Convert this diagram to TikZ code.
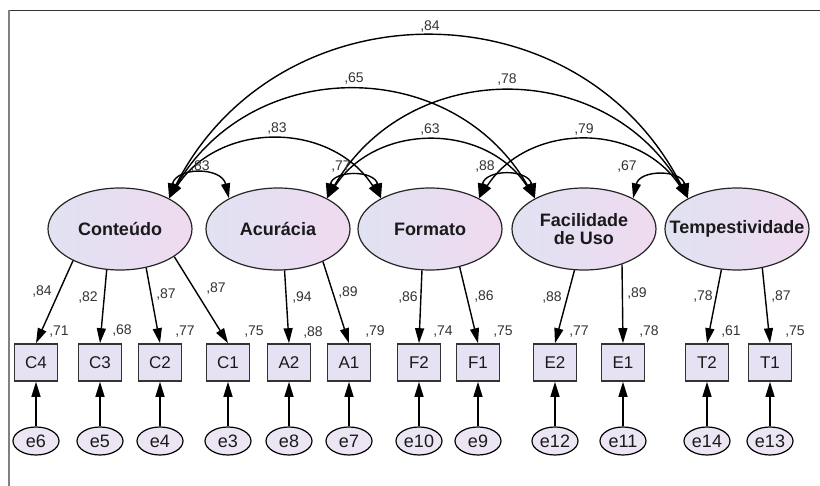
\documentclass[tikz,border=0pt]{standalone}
\usepackage{fontspec}
\setmainfont{Liberation Sans}
\usetikzlibrary{arrows.meta,shapes.geometric}
\definecolor{latL}{HTML}{E0E2F2}
\definecolor{latR}{HTML}{F0DAF0}
\definecolor{boxF}{HTML}{E6E2F4}
\definecolor{errF}{HTML}{ECE6F4}
\definecolor{txt}{HTML}{1A1A1A}
\definecolor{num}{HTML}{333333}
\newcommand{\zw}[1]{\makebox[0pt]{\shortstack{#1}}}
\tikzset{
  latent/.style={ellipse, draw=black!85, line width=1.2pt, minimum width=144pt, minimum height=82pt,
    inner sep=0pt, left color=latL, right color=latR, text=txt,
    font=\fontsize{18}{21}\selectfont\bfseries},
  indic/.style={rectangle, draw=black!80, line width=1.6pt, fill=boxF, minimum width=43pt,
    minimum height=37pt, inner sep=0pt, text=txt, font=\fontsize{17}{19}\selectfont},
  errv/.style={ellipse, draw=black, line width=1.2pt, fill=errF, minimum width=46pt,
    minimum height=28pt, inner sep=0pt, text=txt, font=\fontsize{18}{20}\selectfont},
  numlab/.style={inner sep=0pt, text=num, font=\fontsize{14}{16}\selectfont},
  load/.style={line width=1.4pt, -{Triangle[length=15pt,width=9pt]}},
  cov/.style={line width=1.4pt, {Triangle[length=15pt,width=9pt]}-{Triangle[length=15pt,width=9pt]}},
  cshort/.style={cov, out=77, in=103, looseness=1.39},
  ctwo/.style={cov, out=57, in=123, looseness=1.12},
  cthree/.style={cov, out=60, in=120, looseness=1.16},
  cfour/.style={cov, out=63, in=117, looseness=1.19}
}
\begin{document}
\begin{tikzpicture}[x=1pt,y=-1pt]
\useasboundingbox (0,0) rectangle (820,486);
\fill[white] (0,0) rectangle (820,486);
% frame
\draw[line width=1.5pt, black!80] (8,10.5) -- (820,10.5);
\draw[line width=1.5pt, black!50] (9,10) -- (9,486);

% latent variables
\node[latent] (Con) at (120,229) {\zw{Conteúdo}};
\node[latent] (Acu) at (278,229) {\zw{Acurácia}};
\node[latent] (For) at (430,229) {\zw{Formato}};
\node[latent] (Fac) at (584,229) {\zw{Facilidade\\[1pt]de Uso}};
\node[latent] (Tem) at (737,229) {\zw{Tempestividade}};

% indicators and errors
\foreach \n/\e/\x in {C4/e6/36, C3/e5/100, C2/e4/160, C1/e3/228, A2/e8/289, A1/e7/349, F2/e10/419, F1/e9/478, E2/e12/555, E1/e11/623, T2/e14/707, T1/e13/770}{
  \node[indic] (\n) at (\x,362.5) {\n};
  \node[errv] (\e) at (\x,441) {\e};
  \draw[load] (\e.north) -- (\n.south);
}

% loadings
\draw[load] (Con.214.5) -- (C4.north);
\draw[load] (Con.252.4) -- (C3.north);
\draw[load] (Con.304.7) -- (C2.north);
\draw[load] (Con.333.8) -- (C1.north);
\draw[load] (Acu.279.7) -- (A2.north);
\draw[load] (Acu.324.8) -- (A1.north);
\draw[load] (For.259) -- (F2.north);
\draw[load] (For.308.5) -- (F1.north);
\draw[load] (Fac.257.6) -- (E2.north);
\draw[load] (Fac.317.5) -- (E1.north);
\draw[load] (Tem.249.5) -- (T2.north);
\draw[load] (Tem.303) -- (T1.north);

% covariances
\draw[cfour]  (Con.32) to (Tem.148);
\draw[cthree] (Con.32) to (Fac.148);
\draw[cthree] (Acu.32) to (Tem.148);
\draw[ctwo]   (Con.32) to (For.148);
\draw[ctwo]   (Acu.32) to (Fac.148);
\draw[ctwo]   (For.32) to (Tem.148);
\draw[cshort] (Con.32) to (Acu.148);
\draw[cshort] (Acu.32) to (For.148);
\draw[cshort] (For.32) to (Fac.148);
\draw[cshort] (Fac.32) to (Tem.148);

% covariance labels
\node[numlab] (k1) at (430,27) {,84};
\node[numlab] (k2) at (354,79) {,65};
\node[numlab] (k3) at (507,80) {,78};
\node[numlab] (k4) at (277,129) {,83};
\node[numlab] (k5) at (430,130) {,63};
\node[numlab] (k6) at (584,130) {,79};
\node[numlab] (k7) at (200,167) {,83};
\node[numlab] (k8) at (341,167) {,77};
\node[numlab] (k9) at (485,167) {,88};
\node[numlab] (k10) at (627,167) {,67};

% loading labels
\node[numlab] (l1) at (42,292) {,84};
\node[numlab] (l2) at (88,298) {,82};
\node[numlab] (l3) at (166,295) {,87};
\node[numlab] (l4) at (216,289) {,87};
\node[numlab] (l5) at (302,298) {,94};
\node[numlab] (l6) at (348,293) {,89};
\node[numlab] (l7) at (408,298) {,86};
\node[numlab] (l8) at (484,297) {,86};
\node[numlab] (l9) at (552,298) {,88};
\node[numlab] (l10) at (637,294) {,89};
\node[numlab] (l11) at (703,297) {,78};
\node[numlab] (l12) at (781,297) {,87};

% R2 labels
\node[numlab] (r1) at (59,332) {,71};
\node[numlab] (r2) at (122,331) {,68};
\node[numlab] (r3) at (185,332) {,77};
\node[numlab] (r4) at (254,332) {,75};
\node[numlab] (r5) at (313,333) {,88};
\node[numlab] (r6) at (375,332) {,79};
\node[numlab] (r7) at (443,332) {,74};
\node[numlab] (r8) at (503,332) {,75};
\node[numlab] (r9) at (579,332) {,77};
\node[numlab] (r10) at (649,332) {,78};
\node[numlab] (r11) at (731,332) {,61};
\node[numlab] (r12) at (795,332) {,75};
\end{tikzpicture}
\end{document}
